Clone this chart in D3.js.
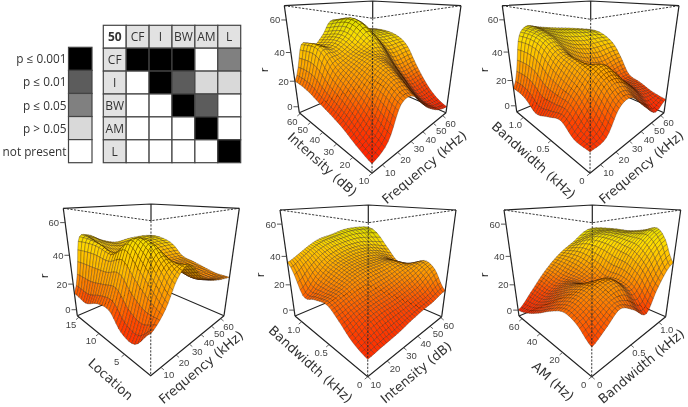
<!DOCTYPE html>
<html><head><meta charset="utf-8">
<script src="https://cdnjs.cloudflare.com/ajax/libs/d3/7.8.5/d3.min.js"></script>
<style>html,body{margin:0;background:#fff}svg{display:block;filter:blur(.3px)}</style>
</head><body><svg id="c" width="688" height="407"></svg>
<script>
// ---- data ----
const legendLabels = ["p ≤ 0.001","p ≤ 0.01","p ≤ 0.05","p > 0.05","not present"];
const levelColors = ["#000000","#5c5c5c","#808080","#d9d9d9","#ffffff"];
const matrixCorner = "50";
const matrixCols = ["CF","I","BW","AM","L"];
const matrixRows = ["CF","I","BW","AM","L"];
const matrixCF = [0,0,0,4,2];
const matrixI  = [4,0,1,3,3];
const matrixBW = [4,4,0,1,4];
const matrixAM = [4,4,4,0,4];
const matrixL  = [4,4,4,4,0];
const rTicks = [0,20,40,60];
const freqTicks = [10,20,30,40,50,60];
const intTicks = [10,20,30,40,50,60];
const bwTicks = [0,0.5,1.0];
const amTicks = [0,20,40,60];
const locTicks = [5,10,15];
// heights: rows go along the left floor axis (near to far), columns along the right floor axis
const surfIntFreq = [
 [0,5,20,21,10,3,0],
 [3,10,25,28,16,6,6],
 [7,17,28,34,26,14,16],
 [10,23,32,38,36,24,28],
 [13,30,36,42,50,38,42],
 [17,42,42,50,62,50,52],
 [20,44,42,50,62,56,58]];
const surfBwFreq = [
 [6,7,18,20,10,1,6],
 [6,14,26,28,20,10,8],
 [11,22,32,34,22,14,12],
 [8,26,36,28,18,14,16],
 [5,32,40,32,26,24,30],
 [11,42,50,46,42,42,46],
 [14,46,56,56,56,57,58]];
const surfLocFreq = [
 [16,23,35,40,30,26,25],
 [5,30,42,38,28,24,25],
 [6,38,50,38,30,26,27],
 [14,46,50,30,28,28,30],
 [14,42,34,28,30,32,34],
 [10,46,40,36,38,42,46],
 [13,48,52,48,46,50,54]];
const surfBwInt = [
 [4,5,6,8,10,12,16],
 [7,11,13,14,16,20,29],
 [13,16,18,20,23,28,34],
 [18,21,25,28,30,33,29],
 [17,22,29,33,35,35,30],
 [16,26,34,39,43,45,44],
 [36,40,45,50,54,60,64]];
const surfAmBw = [
 [10,15,20,15,8,22,36],
 [16,20,24,26,20,34,50],
 [18,23,27,28,24,42,58],
 [14,20,24,20,24,46,57],
 [8,14,20,22,30,50,57],
 [3,9,16,24,36,52,60],
 [0,10,20,29,38,48,63]];

// ---- layout ----
const FONT = '"DejaVu Sans",sans-serif';
const LFONT = '"Open Sans",sans-serif';
const TFONT = '"Liberation Sans",sans-serif';
const panels = [
 {grid:surfIntFreq, left:{ticks:intTicks,dom:[10,61],title:"Intensity (dB)",tp:[321.7,165],rot:42},
  right:{ticks:freqTicks,dom:[4,64],title:"Frequency (kHz)",tp:[425,168],rot:-40},
  TL:[284.3,5.7],TN:[372.7,1],TR:[461,5.7],TB:[372.7,18.3],BL:[299.3,112.7],BN:[372,173.3],BR:[446,112.7],BB:[372.7,81],rp:[268,70]},
 {grid:surfBwFreq, left:{ticks:bwTicks,dom:[0,1.15],title:"Bandwidth (kHz)",tp:[533,161],rot:42},
  right:{ticks:freqTicks,dom:[4,64],title:"Frequency (kHz)",tp:[642,168],rot:-40},
  TL:[502.3,5.7],TN:[590.7,1],TR:[679,5.7],TB:[590.7,19.3],BL:[516.7,111.7],BN:[590,173.3],BR:[664,112.7],BB:[590.7,81],rp:[488,70]},
 {grid:surfLocFreq, left:{ticks:locTicks,dom:[1,15.5],title:"Location",tp:[110,380],rot:42},
  right:{ticks:freqTicks,dom:[4,64],title:"Frequency (kHz)",tp:[201.7,368],rot:-40},
  TL:[63.3,208.3],TN:[151,204],TR:[239.3,208.3],TB:[151,220.7],BL:[77.3,315.7],BN:[150.7,375.7],BR:[224,315.7],BB:[150.7,284.3],rp:[48,276]},
 {grid:surfBwInt, left:{ticks:bwTicks,dom:[0,1.15],title:"Bandwidth (kHz)",tp:[310,365],rot:42},
  right:{ticks:intTicks,dom:[10,61],title:"Intensity (dB)",tp:[416.7,373],rot:-40},
  TL:[280,210],TN:[368.3,205],TR:[456,210],TB:[368.3,222.7],BL:[295,316],BN:[367.7,376.7],BR:[441.7,316.7],BB:[368.3,285],rp:[264,275]},
 {grid:surfAmBw, left:{ticks:amTicks,dom:[0,64],title:"AM (Hz)",tp:[552.3,382],rot:42},
  right:{ticks:bwTicks,dom:[0,1.15],title:"Bandwidth (kHz)",tp:[642,367],rot:-40},
  TL:[504,210],TN:[592.3,205],TR:[680.7,210],TB:[592.3,222.7],BL:[519,316],BN:[591.7,376.7],BR:[665.7,316.7],BB:[592.3,285],rp:[488,275]}
];

const svg = d3.select("#c");

// ---- legend ----
const legY = d3.scaleBand().domain(legendLabels).range([47.3,162.7]);
const lg = svg.append("g");
lg.selectAll("rect").data(legendLabels).join("rect")
  .attr("x",68.5).attr("width",23.5).attr("y",d=>legY(d)).attr("height",legY.bandwidth())
  .attr("fill",(d,i)=>levelColors[i]).attr("stroke","#444").attr("stroke-width",1.2);
lg.selectAll("text").data(legendLabels).join("text")
  .attr("x",66.5).attr("y",d=>legY(d)+legY.bandwidth()/2+4.5).attr("text-anchor","end")
  .attr("font-family",LFONT).attr("font-size",11.8).attr("fill","#333").text(d=>d);

// ---- matrix ----
const mx = d3.scaleBand().domain(d3.range(6)).range([103.3,240.7]);
const my = d3.scaleBand().domain(d3.range(6)).range([25.3,162.7]);
const rowsM = [matrixCF,matrixI,matrixBW,matrixAM,matrixL];
const mCells = [];
mCells.push({c:0,r:0,fill:"#fff",txt:matrixCorner,bold:true});
matrixCols.forEach((t,i)=>mCells.push({c:i+1,r:0,fill:"#e2e2e2",txt:t}));
matrixRows.forEach((t,j)=>{
  mCells.push({c:0,r:j+1,fill:"#e2e2e2",txt:t});
  rowsM[j].forEach((lv,i)=>mCells.push({c:i+1,r:j+1,fill:levelColors[lv],txt:""}));
});
const mg = svg.append("g");
mg.selectAll("rect").data(mCells).join("rect")
  .attr("x",d=>mx(d.c)).attr("y",d=>my(d.r)).attr("width",mx.bandwidth()).attr("height",my.bandwidth())
  .attr("fill",d=>d.fill).attr("stroke","#444").attr("stroke-width",1.2);
mg.selectAll("text").data(mCells.filter(d=>d.txt)).join("text")
  .attr("x",d=>mx(d.c)+mx.bandwidth()/2).attr("y",d=>my(d.r)+my.bandwidth()/2+4.5).attr("text-anchor","middle")
  .attr("font-family",LFONT).attr("font-size",12).attr("font-weight",d=>d.bold?700:400).attr("fill","#333").text(d=>d.txt);

// ---- 3D helpers ----
function homography(p0,p1,p2,p3){
  const dx1=p1[0]-p2[0],dx2=p3[0]-p2[0],sx=p0[0]-p1[0]+p2[0]-p3[0];
  const dy1=p1[1]-p2[1],dy2=p3[1]-p2[1],sy=p0[1]-p1[1]+p2[1]-p3[1];
  const den=dx1*dy2-dx2*dy1, g=(sx*dy2-dx2*sy)/den, h=(dx1*sy-sx*dy1)/den;
  const a=p1[0]-p0[0]+g*p1[0],b=p3[0]-p0[0]+h*p3[0],d=p1[1]-p0[1]+g*p1[1],e=p3[1]-p0[1]+h*p3[1];
  return (u,v)=>{const w=g*u+h*v+1;return [(a*u+b*v+p0[0])/w,(d*u+e*v+p0[1])/w];};
}
const zNorm = d3.scaleLinear().domain([-5,68]).range([0,1]);
const warp = t=>t/(t+(1-t)*1.25);
const heat = d3.scaleLinear().domain([0,12,24,36,48,60,70])
  .range(["#ff2000","#ff4800","#ff8a00","#ffb400","#f6d800","#dcdc00","#b8c800"]).clamp(true);
const shade = d3.scaleLinear().domain([-0.6,-0.08,1]).range([0.4,1,1.05]).clamp(true);
function cr(p0,p1,p2,p3,t){return 0.5*(2*p1+(p2-p0)*t+(2*p0-5*p1+4*p2-p3)*t*t+(3*p1-p0-3*p2+p3)*t*t*t);}
function surfaceAt(g,u,v){
  const n=g.length-1, fu=Math.min(u*n,n-1e-6), fv=Math.min(v*n,n-1e-6), iu=Math.floor(fu), iv=Math.floor(fv);
  const cl=i=>Math.max(0,Math.min(n,i));
  const rows=[-1,0,1,2].map(k=>{const r=g[cl(iv+k)];
    return cr(r[cl(iu-1)],r[cl(iu)],r[cl(iu+1)],r[cl(iu+2)],fu-iu);});
  return cr(rows[0],rows[1],rows[2],rows[3],fv-iv);
}
const N = 30;
const meshIndex = d3.scaleLinear().domain([0,N]).range([0,1]);
const zSpan = zNorm.domain()[1]-zNorm.domain()[0];

panels.forEach(P=>{
  const floor = homography(P.BN,P.BR,P.BB,P.BL);
  const top = homography(P.TN,P.TR,P.TB,P.TL);
  const proj = (u,v,z)=>{const t=warp(zNorm(z)),a=floor(u,v),b=top(u,v);return [a[0]+(b[0]-a[0])*t,a[1]+(b[1]-a[1])*t];};
  const g = svg.append("g");
  const line = d3.line();
  const seg = (pts,opt={})=>g.append("path").attr("d",line(pts)).attr("fill","none")
     .attr("stroke",opt.c||"#222").attr("stroke-width",opt.w||1.1).attr("stroke-dasharray",opt.dash||null);
  seg([P.BL,P.BB,P.BR]);
  seg([P.TL,P.TB,P.TR],{w:.9,dash:"2.2 1.4"});
  const cells=[];
  for(let i=0;i<N;i++)for(let j=0;j<N;j++){
    const u0=meshIndex(i),u1=meshIndex(i+1),v0=meshIndex(j),v1=meshIndex(j+1);
    const z00=surfaceAt(P.grid,u0,v0),z10=surfaceAt(P.grid,u1,v0),z11=surfaceAt(P.grid,u1,v1),z01=surfaceAt(P.grid,u0,v1);
    const dzu=((z10+z11)-(z00+z01))/2/zSpan*N;
    const dzv=((z01+z11)-(z00+z10))/2/zSpan*N;
    const lit=dzu*0.33+dzv*0.05;
    const zm=(z00+z10+z11+z01)/4;
    const col=d3.rgb(heat(zm));
    const f=shade(lit);
    cells.push({depth:u0+v0,pts:[proj(u0,v0,z00),proj(u1,v0,z10),proj(u1,v1,z11),proj(u0,v1,z01)],
      fill:d3.rgb(col.r*f,col.g*f,col.b*f).formatHex()});
  }
  cells.sort((a,b)=>d3.descending(a.depth,b.depth));
  g.append("g").selectAll("path").data(cells).join("path")
    .attr("d",d=>line(d.pts)+"Z").attr("fill",d=>d.fill)
    .attr("stroke","#2a1400").attr("stroke-opacity",.68).attr("stroke-width",.45).attr("stroke-linejoin","round");
  seg([P.TL,P.TN,P.TR],{w:1.2});
  seg([P.TL,P.BL],{w:1.2}); seg([P.TR,P.BR],{w:1.2});
  seg([P.BL,P.BN,P.BR],{w:1.2});
  seg([P.TN,P.TB],{w:1.2});
  seg([P.TB,P.BN],{w:.9,dash:"2.2 1.4"});
  rTicks.forEach(z=>{const p=proj(0,1,z);
    seg([[p[0]-5,p[1]],p],{w:.9,c:"#444"});
    g.append("text").attr("x",p[0]-6).attr("y",p[1]+3.5).attr("text-anchor","end").attr("font-family",TFONT).attr("font-size",9.5).attr("fill","#444").text(z);});
  g.append("text").attr("transform",`translate(${P.rp[0]},${P.rp[1]}) rotate(-90)`).attr("text-anchor","middle").attr("font-family",FONT).attr("font-size",11).attr("fill","#222").text("r");
  const fmt=t=>t===1?"1.0":t;
  const sL=d3.scaleLinear().domain(P.left.dom).range([0,1]);
  P.left.ticks.forEach(t=>{const p=floor(0,sL(t));
    seg([p,[p[0]-3,p[1]+2.5]],{w:.8,c:"#444"});
    g.append("text").attr("x",p[0]-8).attr("y",p[1]+11).attr("text-anchor","middle").attr("font-family",TFONT).attr("font-size",9.5).attr("fill","#444").text(fmt(t));});
  const sR=d3.scaleLinear().domain(P.right.dom).range([0,1]);
  P.right.ticks.forEach(t=>{const p=floor(sR(t),0);
    seg([p,[p[0]+3,p[1]+2.5]],{w:.8,c:"#444"});
    g.append("text").attr("x",p[0]+8).attr("y",p[1]+11).attr("text-anchor","middle").attr("font-family",TFONT).attr("font-size",9.5).attr("fill","#444").text(fmt(t));});
  [P.left,P.right].forEach(a=>g.append("text").attr("transform",`translate(${a.tp[0]},${a.tp[1]}) rotate(${a.rot})`)
    .attr("text-anchor","middle").attr("dominant-baseline","middle").attr("font-family",FONT).attr("font-size",13).attr("fill","#333").text(a.title));
});
</script></body></html>
